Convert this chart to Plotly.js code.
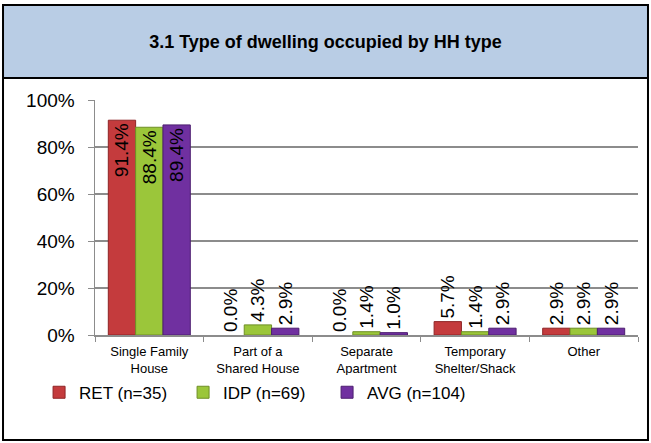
<!DOCTYPE html>
<html>
<head>
<meta charset="utf-8">
<script src="https://cdn.plot.ly/plotly-3.0.1.min.js"></script>
<style>
  html, body { margin: 0; padding: 0; background: #fff; }
  #chart { width: 651px; height: 443px; }
</style>
</head>
<body>
<div id="chart"></div>
<script>
// Dwelling type categories (two-line tick labels)
var dwellingTypes = ["Single Family<br>House", "Part of a<br>Shared House", "Separate<br>Apartment", "Temporary<br>Shelter/Shack", "Other"];

// Shares per HH type
var retValues = [0.914, 0.000, 0.000, 0.057, 0.029];
var idpValues = [0.884, 0.043, 0.014, 0.014, 0.029];
var avgValues = [0.894, 0.029, 0.010, 0.029, 0.029];

var seriesNames = ["RET (n=35)", "IDP (n=69)", "AVG (n=104)"];
var seriesColors = ["#c43b3d", "#9bc63a", "#7030a0"];
var seriesEdges = ["#8e2426", "#6f8f26", "#4d1f70"];

function makeTrace(vals, i) {
  return {
    x: dwellingTypes,
    y: vals,
    name: seriesNames[i],
    type: "bar",
    marker: {
      color: seriesColors[i],
      line: { color: seriesEdges[i], width: vals.map(v => v > 0 ? 1 : 0) }
    },
    text: vals.map(v => (v * 100).toFixed(1) + "%"),
    // big bars carry the label inside, small ones above
    textposition: vals.map(v => v > 0.5 ? "inside" : "outside"),
    textangle: -90,
    insidetextanchor: "end",
    constraintext: "none",
    textfont: { family: "Arial, Liberation Sans", size: 19, color: "#000" },
    hoverinfo: "skip",
    cliponaxis: false
  };
}

var data = [makeTrace(retValues, 0), makeTrace(idpValues, 1), makeTrace(avgValues, 2)];

// frame pieces expressed in paper coords (plot area 543 x 235 px)
var layout = {
  width: 651,
  height: 443,
  margin: { l: 95, r: 13, t: 100, b: 108 },
  paper_bgcolor: "#fff",
  plot_bgcolor: "#fff",
  font: { family: "Arial, Liberation Sans", color: "#000" },
  title: {
    text: "<b>3.1 Type of dwelling occupied by HH type</b>",
    font: { size: 18, color: "#000" },
    x: 0.5, xref: "container",
    y: 0.905, yref: "container", yanchor: "middle"
  },
  barmode: "group",
  bargap: 0.245,
  bargroupgap: 0,
  showlegend: true,
  legend: {
    orientation: "h",
    x: -0.103, xanchor: "left",
    y: -0.169, yanchor: "top",
    font: { size: 17 },
    entrywidth: 99, entrywidthmode: "pixels",
    traceorder: "normal",
    itemclick: false
  },
  xaxis: {
    tickfont: { size: 13 },
    showline: true, linecolor: "#8c8c8c", linewidth: 1.5,
    ticks: "outside", tickson: "boundaries", ticklen: 5, tickcolor: "#8c8c8c",
    ticklabelstandoff: 4,
    showgrid: false, fixedrange: true
  },
  yaxis: {
    range: [0, 1],
    dtick: 0.2,
    tickformat: ".0%",
    tickfont: { size: 19 },
    showline: true, linecolor: "#8c8c8c", linewidth: 1.5,
    ticks: "outside", ticklen: 6, tickcolor: "#8c8c8c",
    ticklabelstandoff: 9,
    showgrid: true, gridcolor: "#8c8c8c", gridwidth: 1.5,
    zeroline: false, fixedrange: true
  },
  shapes: [
    // title band
    { type: "rect", xref: "paper", yref: "paper", x0: -0.1694, x1: 1.0184, y0: 1.0936, y1: 1.404,
      fillcolor: "#b9cde5", line: { width: 0 }, layer: "below" },
    { type: "line", xref: "paper", yref: "paper", x0: -0.1694, x1: 1.0184, y0: 1.0936, y1: 1.0936,
      line: { color: "#000", width: 2 } },
    // outer border
    { type: "rect", xref: "paper", yref: "paper", x0: -0.1694, x1: 1.0184, y0: -0.4468, y1: 1.404,
      line: { color: "#000", width: 2 } }
  ]
};

Plotly.newPlot("chart", data, layout, { displayModeBar: false, staticPlot: true });
</script>
</body>
</html>
